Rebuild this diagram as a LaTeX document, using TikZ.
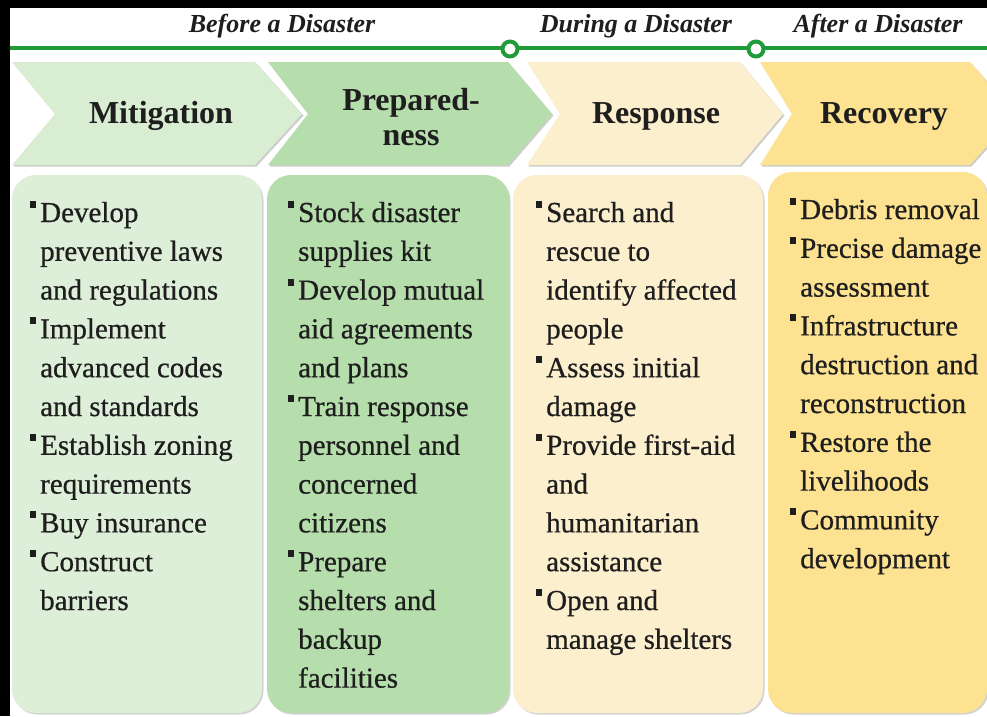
\documentclass[tikz,border=0pt]{standalone}
\usepackage{fontspec}
\setmainfont{Liberation Serif}
\newfontfamily\itemfont[FakeBold=0.6]{Liberation Serif}
\usetikzlibrary{shadows}
\definecolor{mitfill}{HTML}{D9EDD2}
\definecolor{mitbox}{HTML}{DDEFD8}
\definecolor{prepfill}{HTML}{B6DDAC}
\definecolor{respfill}{HTML}{FCEFCE}
\definecolor{recfill}{HTML}{FDE292}
\definecolor{linegreen}{HTML}{1F9B3A}
\definecolor{inkgray}{HTML}{1E1E1E}
\newcommand\sqbul{\leavevmode\llap{\rule[14pt]{6pt}{7pt}\hspace{4pt}}}
\newcommand\itemtext[1]{\parbox[t]{240pt}{\raggedright\itemfont\fontsize{29}{38.8}\selectfont #1}}
\tikzset{
  chev/.style={drop shadow={shadow xshift=1.5pt,shadow yshift=-1.5pt,opacity=0.4,fill=gray}},
  panel/.style={rounded corners=24pt,drop shadow={shadow xshift=1.5pt,shadow yshift=-1.5pt,opacity=0.35,fill=gray}},
  head/.style={font=\fontsize{32}{35}\selectfont\bfseries,align=center,text=inkgray,inner sep=0pt},
  era/.style={font=\fontsize{26}{30}\selectfont\bfseries\itshape,anchor=base,text=inkgray,inner sep=0pt},
  items/.style={anchor=base west,inner sep=0pt,text=inkgray},
  stop/.style={circle,draw=linegreen,line width=4pt,fill=white,minimum size=15pt,inner sep=0pt},
}
\begin{document}
\begin{tikzpicture}[x=1pt, y=-1pt, line cap=round, line join=round]
  \useasboundingbox (0,0) rectangle (987,716);
  \fill[black] (0,0) rectangle (987,716);
  \fill[white] (10,8) rectangle (987,716);
  % timeline
  \draw[linegreen,line width=4pt,line cap=butt] (10,48) -- (987,48);
  \node[stop] (during) at (510,49) {};
  \node[stop] (after) at (756,49) {};
  \node[era] (tbefore) at (282,32) {Before a Disaster};
  \node[era] (tduring) at (636,32) {During a Disaster};
  \node[era] (tafter) at (878,32) {After a Disaster};
  % phase arrows
  \fill[chev,fill=mitfill] (12,62) -- (255,62) -- (302,114) -- (255,165) -- (12,165) -- (55,114) -- cycle;
  \fill[chev,fill=prepfill] (268,62) -- (508,62) -- (552,114) -- (508,165) -- (268,165) -- (308,114) -- cycle;
  \fill[chev,fill=respfill] (527,62) -- (740,62) -- (783,114) -- (740,165) -- (527,165) -- (560,114) -- cycle;
  \fill[chev,fill=recfill] (760,62) -- (970,62) -- (1016,114) -- (970,165) -- (760,165) -- (792,114) -- cycle;
  \node[head,anchor=base] (mit) at (161,123) {Mitigation};
  \node[head] (prep) at (411,117) {Prepared-\\ness};
  \node[head,anchor=base] (resp) at (656,123) {Response};
  \node[head,anchor=base] (rec) at (884,123) {Recovery};
  % panels
  \fill[panel,fill=mitbox] (12,175) rectangle (262,713);
  \fill[panel,fill=prepfill] (267,175) rectangle (509,713);
  \fill[panel,fill=respfill] (513,175) rectangle (763,713);
  \fill[panel,fill=recfill] (768,172) rectangle (987,713);
  \node[items] (mitlist) at (40,222) {\itemtext{\sqbul Develop\\ preventive laws\\ and regulations\\
    \sqbul Implement\\ advanced codes\\ and standards\\ \sqbul Establish zoning\\ requirements\\
    \sqbul Buy insurance\\ \sqbul Construct\\ barriers}};
  \node[items] (preplist) at (298,222) {\itemtext{\sqbul Stock disaster\\ supplies kit\\
    \sqbul Develop mutual\\ aid agreements\\ and plans\\ \sqbul Train response\\ personnel and\\
    concerned\\ citizens\\ \sqbul Prepare\\ shelters and\\ backup\\ facilities}};
  \node[items] (resplist) at (546,222) {\itemtext{\sqbul Search and\\ rescue to\\ identify affected\\
    people\\ \sqbul Assess initial\\ damage\\ \sqbul Provide first-aid\\ and\\ humanitarian\\
    assistance\\ \sqbul Open and\\ manage shelters}};
  \node[items] (reclist) at (800,219) {\itemtext{\sqbul Debris removal\\ \sqbul Precise damage\\
    assessment\\ \sqbul Infrastructure\\ destruction and\\ reconstruction\\ \sqbul Restore the\\
    livelihoods\\ \sqbul Community\\ development}};
\end{tikzpicture}
\end{document}
